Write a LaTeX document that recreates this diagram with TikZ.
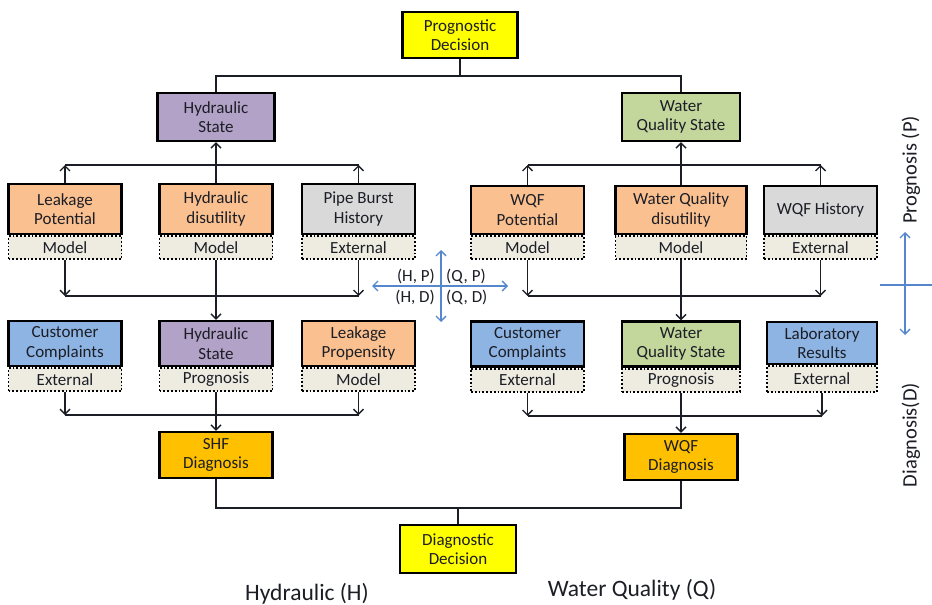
\documentclass[tikz,border=0pt]{standalone}
\usepackage{fontspec}
\setmainfont{Carlito}
\usepackage{tikz}
\usetikzlibrary{arrows.meta}
\usetikzlibrary{positioning}
\usetikzlibrary{calc}
\definecolor{decyellow}{RGB}{255,255,0}
\definecolor{hydpurple}{RGB}{179,162,199}
\definecolor{wqgreen}{RGB}{195,214,155}
\definecolor{modorange}{RGB}{250,192,144}
\definecolor{extgray}{RGB}{217,217,217}
\definecolor{extblue}{RGB}{142,180,227}
\definecolor{diaggold}{RGB}{255,192,0}
\definecolor{tagfill}{RGB}{238,236,225}
\definecolor{crossblue}{RGB}{85,135,205}
\definecolor{inkgray}{RGB}{28,30,38}
\tikzset{box/.style={draw=black, line width=2.4pt, fill=#1, minimum width=113pt,
            minimum height=46pt, align=center, inner sep=1pt, text=inkgray,
            font=\fontsize{17}{19.5}\selectfont},
         tag/.style={draw=black, dotted, line width=1.8pt, fill=tagfill,
            minimum width=113pt, minimum height=23pt, inner sep=0pt, text=inkgray,
            font=\fontsize{17}{18}\selectfont, below=0pt of #1},
         link/.style={draw=inkgray, line width=1.4pt},
         axis/.style={draw=crossblue, line width=1.3pt},
         lbl/.style={text=inkgray, font=\fontsize{17}{18}\selectfont, inner sep=1pt}}

\begin{document}
\begin{tikzpicture}[x=1pt,y=-1pt,>={Straight Barb[length=5pt,width=10pt]}]
\useasboundingbox (0,0) rectangle (932,605);
% decisions and states
\node [box=decyellow, minimum width=115pt] (pd) at (460,35) {Prognostic\\Decision};
\node [box=hydpurple, minimum width=117pt, minimum height=48pt] (hs) at (216,117) {Hydraulic\\State};
\node [box=wqgreen, minimum width=118pt, minimum height=48pt] (ws) at (681,117) {Water\\Quality State};
%
% prognosis row, hydraulic side
\node [box=modorange, minimum height=50pt] (lp) at (65,209) {Leakage\\Potential};
\node [tag=lp] (lpm) {Model};
\node [box=modorange, minimum height=50pt] (hd) at (216,209) {Hydraulic\\disutility};
\node [tag=hd] (hdm) {Model};
\node [box=extgray, minimum height=50pt] (pb) at (358.5,209) {Pipe Burst\\History};
\node [tag=pb] (pbm) {External};
%
% prognosis row, water quality side
\node [box=modorange, minimum height=48pt] (wp) at (527.5,210) {WQF\\Potential};
\node [tag=wp] (wpm) {Model};
\node [box=modorange, minimum height=48pt, minimum width=131pt] (wd) at (681,210) {Water Quality\\disutility};
\node [tag=wd, minimum width=131pt] (wdm) {Model};
\node [box=extgray, minimum height=48pt] (wh) at (820.5,210) {WQF History};
\node [tag=wh] (whm) {External};
%
% diagnosis row, hydraulic side
\node [box=extblue, minimum height=45pt] (cc) at (65,343.5) {Customer\\Complaints};
\node [tag=cc] (ccm) {External};
\node [box=hydpurple, minimum height=45pt] (hs2) at (216,343.5) {Hydraulic\\State};
\node [tag=hs2] (hs2m) {Prognosis};
\node [box=modorange, minimum height=45pt] (lk) at (358.5,343.5) {Leakage\\Propensity};
\node [tag=lk] (lkm) {Model};
%
% diagnosis row, water quality side
\node [box=extblue, minimum height=45pt] (cq) at (527.5,344) {Customer\\Complaints};
\node [tag=cq] (cqm) {External};
\node [box=wqgreen, minimum height=45pt, minimum width=118pt] (ws2) at (681,344) {Water\\Quality State};
\node [tag=ws2, minimum width=118pt] (ws2m) {Prognosis};
\node [box=extblue, minimum height=42pt, minimum width=110pt] (lr) at (822,343) {Laboratory\\Results};
\node [tag=lr, minimum width=110pt, minimum height=26pt] (lrm) {External};
%
% diagnoses
\node [box=diaggold] (shf) at (216,455) {SHF\\Diagnosis};
\node [box=diaggold] (wqf) at (681,457) {WQF\\Diagnosis};
\node [box=decyellow, minimum width=116pt, minimum height=48pt] (dd) at (458,549) {Diagnostic\\Decision};
%
% junction coordinates
\coordinate (jtop) at (460,76);
\coordinate (hup) at (216,165);
\coordinate (wup) at (681,165);
\coordinate (hlo) at (216,296);
\coordinate (wlo) at (681,296);
\coordinate (hdg) at (216,415);
\coordinate (wdg) at (681,416);
\coordinate (jbot) at (458,508);
%
% connectors
\draw [link] (pd) -- (jtop);
\draw [link] (hs.north) -- (hs.north |- jtop) -- (ws.north |- jtop) -- (ws.north);
\draw [link,->] (lp.north) -- (lp.north |- hup);
\draw [link,->] (pb.north) -- (pb.north |- hup);
\draw [link] (lp.north |- hup) -- (pb.north |- hup);
\draw [link,->] (hd.north) -- (hs.south);
\draw [link,->] (wp.north) -- (wp.north |- wup);
\draw [link,->] (wh.north) -- (wh.north |- wup);
\draw [link] (wp.north |- wup) -- (wh.north |- wup);
\draw [link,->] (wd.north) -- (ws.south);
%
\draw [link,->] (lpm.south) -- (lpm.south |- hlo);
\draw [link,->] (pbm.south) -- (pbm.south |- hlo);
\draw [link] (lpm.south |- hlo) -- (pbm.south |- hlo);
\draw [link,->] (hdm.south) -- (hs2.north);
\draw [link,->] (wpm.south) -- (wpm.south |- wlo);
\draw [link,->] (whm.south) -- (whm.south |- wlo);
\draw [link] (wpm.south |- wlo) -- (whm.south |- wlo);
\draw [link,->] (wdm.south) -- (ws2.north);
%
\draw [link,->] (ccm.south) -- (ccm.south |- hdg);
\draw [link,->] (lkm.south) -- (lkm.south |- hdg);
\draw [link] (ccm.south |- hdg) -- (lkm.south |- hdg);
\draw [link,->] (hs2m.south) -- (shf.north);
\draw [link,->] (cqm.south) -- (cqm.south |- wdg);
\draw [link,->] (lrm.south) -- (lrm.south |- wdg);
\draw [link] (cqm.south |- wdg) -- (lrm.south |- wdg);
\draw [link,->] (ws2m.south) -- (wqf.north);
%
\draw [link] (shf.south) -- (shf.south |- jbot) -- (wqf.south |- jbot) -- (wqf.south);
\draw [link] (dd.north) -- (jbot);
%
% the quadrant cross
\draw [axis,<->] (372,286) -- (508,286);
\draw [axis,<->] (441,250) -- (441,322);
\node [lbl, anchor=east] (qhp) at (436,276) {(H, P)};
\node [lbl, anchor=west] (qqp) at (445,276) {(Q, P)};
\node [lbl, anchor=east] (qhd) at (436,297) {(H, D)};
\node [lbl, anchor=west] (qqd) at (445,297) {(Q, D)};
%
% side axis and captions
\draw [axis,<->] (905,232) -- (905,335);
\draw [axis] (880,285) -- (932,285);
\node [lbl, rotate=90, font=\fontsize{20.5}{22}\selectfont] (prog) at (911,170) {Prognosis (P)};
\node [lbl, rotate=90, font=\fontsize{20.5}{22}\selectfont] (diag) at (911,435) {Diagnosis(D)};
\node [lbl, font=\fontsize{23.5}{25}\selectfont] (hcap) at (307,594) {Hydraulic (H)};
\node [lbl, font=\fontsize{23.5}{25}\selectfont] (qcap) at (632,590) {Water Quality (Q)};
\end{tikzpicture}
\end{document}
